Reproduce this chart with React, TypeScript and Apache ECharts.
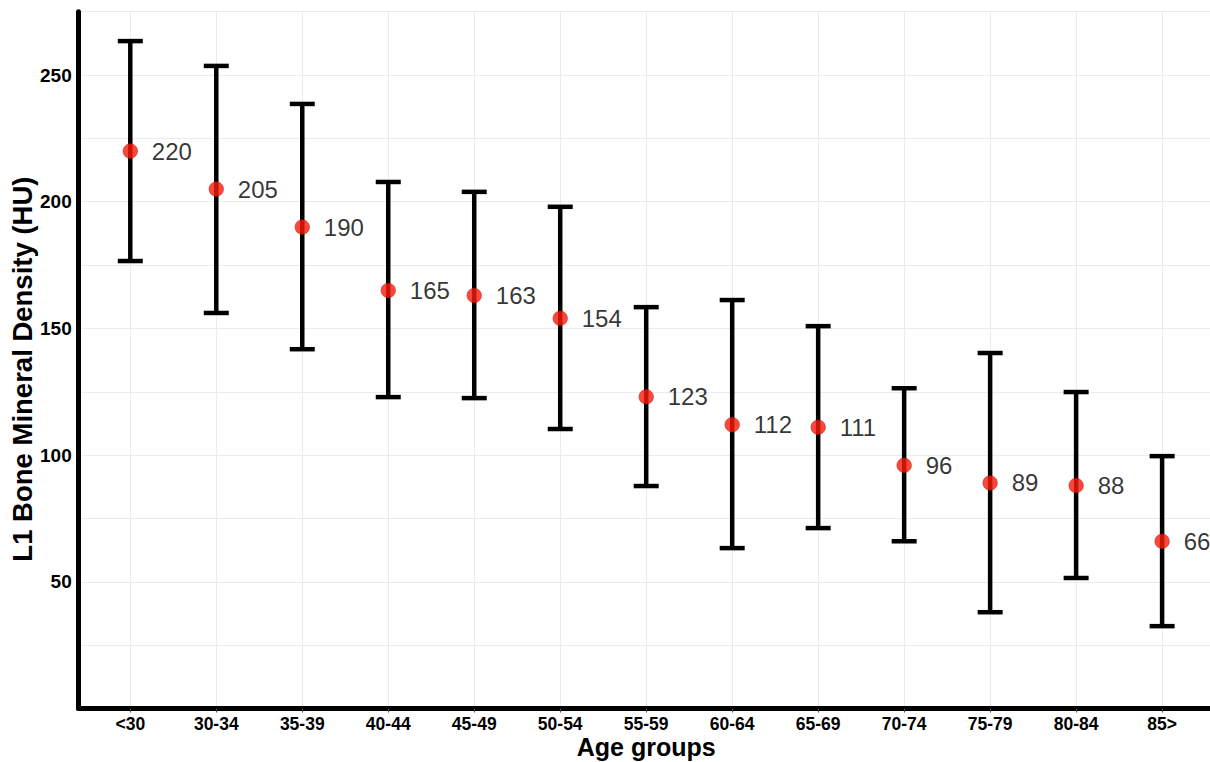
import React, { useEffect, useRef } from "react";
import * as echarts from "echarts";

const categories = ["<30", "30-34", "35-39", "40-44", "45-49", "50-54", "55-59", "60-64", "65-69", "70-74", "75-79", "80-84", "85>"];
const means = [220, 205, 190, 165, 163, 154, 123, 112, 111, 96, 89, 88, 66];
const lowers = [176.6, 156.1, 141.8, 122.9, 122.5, 110.3, 87.8, 63.3, 71.2, 66.0, 38.0, 51.5, 32.5];
const uppers = [263.4, 253.6, 238.6, 207.8, 203.9, 198.0, 158.4, 161.2, 150.9, 126.4, 140.3, 124.9, 99.6];

const FONT = "'Liberation Sans', Arial, Helvetica, sans-serif";

export default function App() {
  const ref = useRef<HTMLDivElement>(null);
  useEffect(() => {
    document.body.style.margin = "0";
    const chart = echarts.init(ref.current!, null, { renderer: "svg" });
    const positions = categories.map((_, i) => i + 1);
    const errData = categories.map((_, i) => [i + 1, lowers[i], uppers[i]]);
    const pointData = categories.map((_, i) => [i + 1, means[i]]);
    chart.setOption({
      animation: false,
      backgroundColor: "#ffffff",
      grid: {
        left: 78.7,
        right: -3.7,
        top: 11.7,
        bottom: 53.5,
        containLabel: false,
        outerBoundsMode: "none",
      },
      xAxis: {
        type: "value",
        min: 0.4,
        max: 13.6,
        name: "Age groups",
        nameLocation: "middle",
        nameGap: 26,
        nameMoveOverlap: false,
        nameTextStyle: { fontFamily: FONT, fontWeight: "bold", fontSize: 25, color: "#000" },
        axisLine: { show: true, onZero: false, lineStyle: { color: "#000", width: 5 } },
        axisTick: { show: true, customValues: positions, length: 4, lineStyle: { color: "#444", width: 1 } },
        axisLabel: {
          customValues: positions,
          formatter: (v: number) => categories[Math.round(v) - 1] ?? "",
          fontFamily: FONT,
          fontWeight: "bold",
          fontSize: 17.5,
          color: "#000",
          margin: 6,
        },
        splitLine: { show: true, lineStyle: { color: "#ebebeb", width: 1 } },
      },
      yAxis: {
        type: "value",
        min: 0,
        max: 275,
        interval: 25,
        name: "L1 Bone Mineral Density (HU)",
        nameLocation: "middle",
        nameGap: 42,
        nameMoveOverlap: false,
        nameTextStyle: {
          fontFamily: FONT,
          fontWeight: "bold",
          fontSize: 27.5,
          color: "#000",
          padding: [0, 18, 0, 0],
        },
        axisLine: { show: true, lineStyle: { color: "#000", width: 5 } },
        axisTick: { show: false },
        axisLabel: {
          formatter: (v: number) => (v > 0 && v % 50 === 0 ? String(v) : ""),
          fontFamily: FONT,
          fontWeight: "bold",
          fontSize: 19,
          color: "#000",
          margin: 7,
        },
        splitLine: { show: true, lineStyle: { color: "#ebebeb", width: 1 } },
      },
      series: [
        {
          type: "custom",
          data: errData,
          z: 2,
          renderItem: (params: any, api: any) => {
            const x = api.value(0);
            const lo = api.coord([x, api.value(1)]);
            const hi = api.coord([x, api.value(2)]);
            const hw = 12.5;
            const style = { stroke: "#000", lineWidth: 4.5 };
            return {
              type: "group",
              children: [
                { type: "line", shape: { x1: lo[0], y1: lo[1], x2: hi[0], y2: hi[1] }, style },
                { type: "line", shape: { x1: hi[0] - hw, y1: hi[1], x2: hi[0] + hw, y2: hi[1] }, style },
                { type: "line", shape: { x1: lo[0] - hw, y1: lo[1], x2: lo[0] + hw, y2: lo[1] }, style },
              ],
            };
          },
        },
        {
          type: "scatter",
          data: pointData,
          z: 3,
          symbol: "circle",
          symbolSize: 14.5,
          itemStyle: { color: "#fa1a0a", borderColor: "#b8160a", borderWidth: 0.6 },
          label: {
            show: true,
            position: "right",
            distance: 14,
            formatter: (p: any) => String(p.value[1]),
            fontFamily: FONT,
            fontSize: 24,
            color: "#000",
          },
        },
      ],
    });
    return () => chart.dispose();
  }, []);
  return <div ref={ref} style={{ position: "absolute", left: 0, top: 0, width: 1210, height: 762 }} />;
}
